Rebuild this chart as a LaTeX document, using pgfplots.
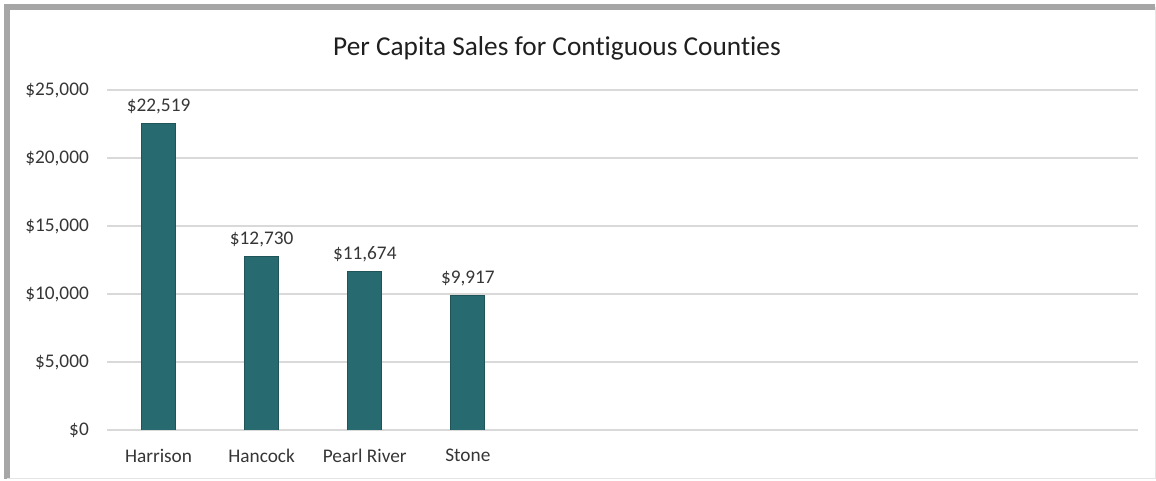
\documentclass[border=0pt]{standalone}
\usepackage{pgfplots}
\pgfplotsset{compat=1.18}
\usepackage{fontspec}
\setmainfont{Carlito}[Ligatures=NoCommon]
\definecolor{barteal}{HTML}{276A6F}
\definecolor{gridgray}{HTML}{D9D9D9}
\definecolor{framegray}{HTML}{A6A6A6}
\definecolor{txt}{HTML}{363636}
\begin{document}
\begin{tikzpicture}
\path[use as bounding box] (0,0) rectangle (1156pt,481pt);
% chart frame
\draw[framegray, line width=6pt] (7pt,2pt) -- (7pt,474pt) -- (1155pt,474pt);
\draw[gridgray!70, line width=1pt] (1155pt,474pt) -- (1155pt,2pt) -- (7pt,2pt);
\node[font=\fontsize{27.3}{31}\selectfont, text=black!88, anchor=base] at (557pt,425pt) {Per Capita Sales for Contiguous Counties};
\begin{axis}[
    at={(107pt,51pt)}, anchor=south west,
    scale only axis, width=1031pt, height=340pt,
    ybar, bar width=34pt,
    xmin=-0.5, xmax=9.5,
    ymin=0, ymax=25000,
    xtick={0,1,2,3},
    xticklabels={Harrison, Hancock, Pearl River, Stone},
    ytick={0,5000,10000,15000,20000,25000},
    scaled y ticks=false,
    ymajorgrids,
    grid style={gridgray, line width=1.5pt},
    axis line style={draw=none},
    major tick length=0pt,
    /pgf/number format/assume math mode=true,
    /pgf/number format/.cd, fixed, precision=0, 1000 sep={,},
    /pgfplots/.cd,
    yticklabel={\$\pgfmathprintnumber{\tick}},
    ticklabel style={font=\fontsize{19.3}{22}\selectfont, text=txt},
    yticklabel style={anchor=east, inner sep=0pt, xshift=-18pt},
    xticklabel style={anchor=north, inner sep=0pt, yshift=-19pt},
    nodes near coords={\$\pgfmathprintnumber{\pgfplotspointmeta}},
    nodes near coords style={font=\fontsize{19.3}{22}\selectfont, text=txt, anchor=south, inner sep=0pt, yshift=9pt},
]
\addplot[fill=barteal, draw=barteal!80!black, line width=0.8pt] coordinates {(0,22519) (1,12730) (2,11674) (3,9917)};
\end{axis}
\end{tikzpicture}
\end{document}
